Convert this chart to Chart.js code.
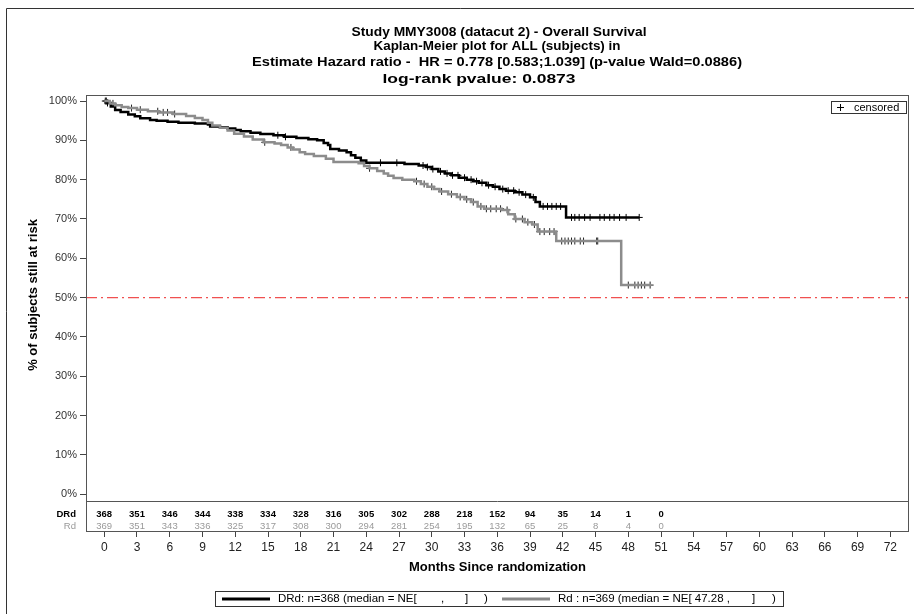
<!DOCTYPE html>
<html>
<head>
<meta charset="utf-8">
<script src="https://cdn.jsdelivr.net/npm/chart.js@4.4.1/dist/chart.umd.min.js"></script>
<style>
  html, body { margin: 0; padding: 0; background: #fff; }
  canvas { display: block; }
</style>
</head>
<body>
<canvas id="km" width="914" height="614"></canvas>
<script>
// ===== DADOS =====
const titleLines = [
    'Study MMY3008 (datacut 2) - Overall Survival',
    'Kaplan-Meier plot for ALL (subjects) in',
    'Estimate Hazard ratio -  HR = 0.778 [0.583;1.039] (p-value Wald=0.0886)',
    'log-rank pvalue: 0.0873'
];

const xTicks = [0, 3, 6, 9, 12, 15, 18, 21, 24, 27, 30, 33, 36, 39, 42, 45, 48, 51, 54, 57, 60, 63, 66, 69, 72];
const yTicks = [0, 10, 20, 30, 40, 50, 60, 70, 80, 90, 100];

// risk table
const riskTimes = [0, 3, 6, 9, 12, 15, 18, 21, 24, 27, 30, 33, 36, 39, 42, 45, 48, 51];
const riskDRd   = [368, 351, 346, 344, 338, 334, 328, 316, 305, 302, 288, 218, 152, 94, 35, 14, 1, 0];
const riskRd    = [369, 351, 343, 336, 325, 317, 308, 300, 294, 281, 254, 195, 132, 65, 25, 8, 4, 0];

// DRd curve (months, % surviving)
const drdTimes = [0, 0.3, 0.6, 1.0, 1.5, 2.2, 2.8, 3.3, 4.2, 4.8, 5.8, 6.8, 8.3, 9.5, 9.7, 10.6, 11.3, 12.0, 12.5, 13.4,
                  14.3, 15.5, 16.5, 17.6, 18.7, 19.5, 20.1, 20.5, 20.7, 21.5, 22.2, 22.6, 23.0, 23.5, 24.0, 27.5, 28.8, 29.5,
                  30.0, 30.6, 31.2, 31.8, 32.5, 33.2, 33.8, 34.3, 35.0, 35.6, 36.2, 36.8, 37.6, 38.3, 39.0, 39.5, 39.9, 42.3, 49.0];
const drdSurv  = [100, 99.5, 98.6, 97.7, 97.2, 96.6, 96.1, 95.6, 95.2, 95.0, 94.7, 94.5, 94.3, 94.0, 93.5, 93.3, 93.0, 92.6, 92.3, 91.9,
                  91.6, 91.3, 90.9, 90.6, 90.3, 90.0, 89.3, 88.8, 87.8, 87.4, 87.0, 86.2, 85.6, 84.9, 84.3, 84.0, 83.6, 83.2,
                  82.7, 82.1, 81.6, 81.1, 80.5, 80.0, 79.6, 79.2, 78.6, 78.2, 77.6, 77.2, 76.8, 76.2, 75.5, 74.3, 73.2, 70.4, 70.4];

// Rd curve
const rdTimes = [0, 0.5, 1.0, 1.6, 2.2, 3.0, 4.0, 5.0, 6.3, 7.5, 8.3, 9.0, 9.5, 9.9, 10.6, 11.3, 11.9, 12.8, 13.6, 14.6,
                 15.6, 16.2, 16.8, 17.3, 17.9, 18.4, 19.2, 20.3, 21.0, 23.3, 23.8, 24.3, 25.0, 25.6, 26.0, 26.5, 27.3, 28.4,
                 29.0, 29.6, 30.2, 30.7, 31.5, 32.3, 33.0, 33.6, 34.2, 34.8, 36.4, 37.0, 37.6, 38.5, 39.2, 39.7, 41.4, 47.35, 50.1];
const rdSurv  = [100, 99.4, 98.9, 98.5, 98.2, 97.8, 97.4, 97.1, 96.7, 96.2, 95.7, 95.2, 94.5, 93.8, 93.2, 92.5, 91.7, 91.0, 90.2, 89.5,
                 89.2, 88.8, 88.2, 87.7, 87.0, 86.5, 86.0, 85.3, 84.5, 84.2, 83.5, 82.9, 82.2, 81.6, 81.0, 80.4, 80.0, 79.6,
                 78.9, 78.2, 77.6, 77.0, 76.3, 75.6, 75.0, 74.3, 73.2, 72.6, 72.3, 71.2, 70.0, 69.2, 68.6, 66.8, 64.4, 53.2, 53.2];

// censored times (months)
const drdCensor = [0.1, 0.3, 15.9, 16.6, 25.3, 26.8, 29.2, 29.6, 30.1, 30.8, 31.4, 31.9, 32.4, 33.0, 33.6, 34.1, 34.6, 35.2,
                   35.8, 36.5, 37.0, 37.5, 38.0, 38.6, 39.3, 40.2, 40.6, 41.0, 41.4, 41.8, 42.8, 43.1, 43.5, 44.0, 44.5,
                   45.4, 45.8, 46.3, 46.7, 47.2, 47.8, 49.0];
const rdCensor  = [0.2, 0.8, 2.5, 3.3, 4.9, 5.4, 5.8, 6.45, 14.7, 17.1, 24.3, 28.6, 29.3, 30.0, 30.9, 31.8, 32.6, 33.2,
                   33.8, 34.5, 35.0, 35.4, 35.9, 36.3, 36.9, 37.7, 38.3, 38.8, 39.4, 39.9, 40.3, 40.8, 41.2, 41.9, 42.2,
                   42.5, 42.8, 43.1, 43.6, 43.9, 45.1, 45.2, 48.0, 48.6, 48.9, 49.2, 49.5, 50.0];

const medianLine = 50;
const xRange = [-1.67, 73.71];
const yRange = [-9.59, 101.53];

// ===== AUXILIARES =====
function survAt(times, surv, t) {
    let s = surv[0];
    for (let i = 0; i < times.length; i++) {
        if (times[i] <= t) s = surv[i];
    }
    return s;
}

const FONT = '"Liberation Sans", Arial, sans-serif';

// escreve o texto esticado para ocupar a largura indicada
function fitText(ctx, text, cx, cy, width) {
    const w = ctx.measureText(text).width;
    ctx.save();
    ctx.translate(cx, cy);
    ctx.scale(width / w, 1);
    ctx.textAlign = 'center';
    ctx.fillText(text, 0, 0);
    ctx.restore();
}

// textos e molduras fora da área de dados
const decorPlugin = {
    id: 'decor',
    afterDraw(chart) {
        const ctx = chart.ctx;
        const a = chart.chartArea;
        const xs = chart.scales.x;
        ctx.save();

        // moldura externa
        ctx.strokeStyle = '#333';
        ctx.lineWidth = 1;
        ctx.beginPath();
        ctx.moveTo(6.5, 614);
        ctx.lineTo(6.5, 8.5);
        ctx.lineTo(914, 8.5);
        ctx.stroke();

        // caixa do gráfico
        ctx.strokeStyle = '#555';
        ctx.strokeRect(a.left + 0.5, a.top + 0.5, a.right - a.left - 1, a.bottom - a.top - 1);
        ctx.beginPath();
        ctx.moveTo(a.left, 501.5);
        ctx.lineTo(a.right, 501.5);
        ctx.stroke();

        // títulos
        ctx.fillStyle = '#000';
        ctx.textBaseline = 'middle';
        ctx.font = 'bold 13.5px ' + FONT;
        fitText(ctx, titleLines[0], 499, 32, 295);
        ctx.font = 'bold 12.5px ' + FONT;
        fitText(ctx, titleLines[1], 497, 47, 247);
        fitText(ctx, titleLines[2], 497, 62.5, 490);
        ctx.font = 'bold 13.5px ' + FONT;
        fitText(ctx, titleLines[3], 479, 79, 193);

        // títulos dos eixos
        ctx.textAlign = 'center';
        ctx.font = 'bold 13px ' + FONT;
        ctx.fillText('Months Since randomization', (a.left + a.right) / 2, 567);
        ctx.save();
        ctx.translate(33, 295);
        ctx.rotate(-Math.PI / 2);
        ctx.fillText('% of subjects still at risk', 0, 0);
        ctx.restore();

        // tabela de risco
        ctx.textAlign = 'right';
        ctx.font = 'bold 9.5px ' + FONT;
        ctx.fillStyle = '#000';
        ctx.fillText('DRd', 76, 514);
        ctx.font = '9.5px ' + FONT;
        ctx.fillStyle = '#999';
        ctx.fillText('Rd', 76, 526);
        ctx.textAlign = 'center';
        riskTimes.forEach((t, i) => {
            const px = xs.getPixelForValue(t);
            ctx.font = 'bold 9.5px ' + FONT;
            ctx.fillStyle = '#000';
            ctx.fillText(String(riskDRd[i]), px, 514);
            ctx.font = '9.5px ' + FONT;
            ctx.fillStyle = '#999';
            ctx.fillText(String(riskRd[i]), px, 526);
        });

        // legenda "censored"
        ctx.fillStyle = '#fff';
        ctx.fillRect(831, 101, 76, 12);
        ctx.strokeStyle = '#333';
        ctx.strokeRect(831.5, 101.5, 75, 12);
        ctx.strokeStyle = '#000';
        ctx.beginPath();
        ctx.moveTo(837, 107.5); ctx.lineTo(844, 107.5);
        ctx.moveTo(840.5, 104); ctx.lineTo(840.5, 111);
        ctx.stroke();
        ctx.fillStyle = '#000';
        ctx.textAlign = 'left';
        ctx.font = '11px ' + FONT;
        ctx.fillText('censored', 854, 107.5);

        // legenda inferior
        ctx.strokeStyle = '#333';
        ctx.lineWidth = 1;
        ctx.strokeRect(215.5, 591.5, 568, 15);
        ctx.lineWidth = 3;
        ctx.strokeStyle = '#000';
        ctx.beginPath(); ctx.moveTo(222, 599); ctx.lineTo(270, 599); ctx.stroke();
        ctx.strokeStyle = '#888';
        ctx.beginPath(); ctx.moveTo(502, 599); ctx.lineTo(550, 599); ctx.stroke();
        ctx.fillStyle = '#000';
        ctx.font = '11.5px ' + FONT;
        ctx.fillText('DRd: n=368 (median = NE[', 278, 599);
        ctx.fillText(',', 441, 599);
        ctx.fillText(']', 465, 599);
        ctx.fillText(')', 484, 599);
        ctx.fillText('Rd : n=369 (median = NE[ 47.28 ,', 558, 599);
        ctx.fillText(']', 752, 599);
        ctx.fillText(')', 772, 599);

        ctx.restore();
    }
};

const toPoints = (ts, ss) => ts.map((t, i) => ({ x: t, y: ss[i] }));
const toCensor = (cs, ts, ss) => cs.map(t => ({ x: t, y: survAt(ts, ss, t) }));

new Chart(document.getElementById('km'), {
    type: 'line',
    data: {
        datasets: [
            {
                label: 'median',
                data: [{ x: xRange[0], y: medianLine }, { x: xRange[1], y: medianLine }],
                borderColor: '#f05050',
                borderWidth: 1.2,
                borderDash: [11, 4, 2, 4],
                pointRadius: 0
            },
            {
                label: 'Rd',
                data: toPoints(rdTimes, rdSurv),
                borderColor: '#8c8c8c',
                borderWidth: 2.5,
                stepped: true,
                pointRadius: 0
            },
            {
                label: 'DRd',
                data: toPoints(drdTimes, drdSurv),
                borderColor: '#000',
                borderWidth: 2.5,
                stepped: true,
                pointRadius: 0
            },
            {
                type: 'scatter',
                label: 'Rd censored',
                data: toCensor(rdCensor, rdTimes, rdSurv),
                pointStyle: 'cross',
                pointRadius: 3.5,
                borderWidth: 1,
                borderColor: '#222',
                showLine: false
            },
            {
                type: 'scatter',
                label: 'DRd censored',
                data: toCensor(drdCensor, drdTimes, drdSurv),
                pointStyle: 'cross',
                pointRadius: 3.5,
                borderWidth: 1,
                borderColor: '#000',
                showLine: false
            }
        ]
    },
    options: {
        responsive: false,
        animation: false,
        layout: { padding: { left: 0, top: 95, right: 2, bottom: 0 } },
        plugins: {
            legend: { display: false },
            title: { display: false },
            tooltip: { enabled: false }
        },
        scales: {
            x: {
                type: 'linear',
                min: xRange[0],
                max: xRange[1],
                afterBuildTicks: s => { s.ticks = xTicks.map(v => ({ value: v })); },
                afterFit: s => { s.height = 82; s.paddingLeft = 0; s.paddingRight = 0; },
                border: { display: false },
                grid: { drawOnChartArea: false, tickLength: 5, color: '#444' },
                ticks: { color: '#222', padding: 3, font: { family: FONT, size: 12 }, maxRotation: 0, autoSkip: false }
            },
            y: {
                min: yRange[0],
                max: yRange[1],
                afterBuildTicks: s => { s.ticks = yTicks.map(v => ({ value: v })); },
                afterFit: s => { s.width = 86; s.paddingTop = 0; s.paddingBottom = 0; },
                border: { display: false },
                grid: { drawOnChartArea: false, tickLength: 6, color: '#444' },
                ticks: { color: '#333', padding: 3, font: { family: FONT, size: 11 }, callback: v => v + '%' }
            }
        }
    },
    plugins: [decorPlugin]
});
</script>
</body>
</html>
